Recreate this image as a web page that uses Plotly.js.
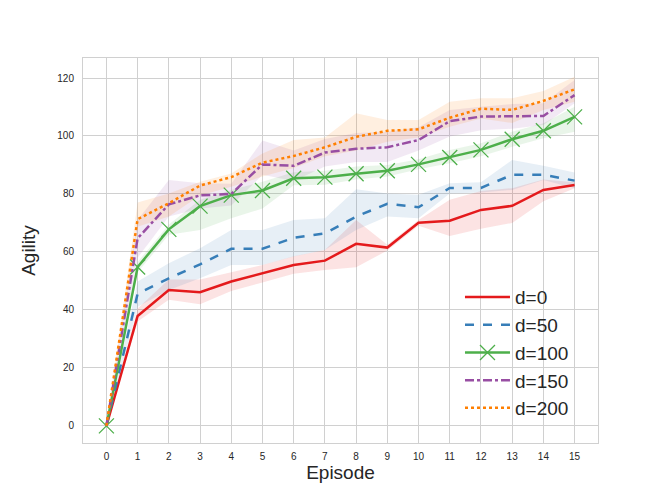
<!DOCTYPE html>
<html>
<head>
<meta charset="utf-8">
<script src="https://cdn.plot.ly/plotly-3.0.1.min.js"></script>
<style>
  html, body { margin: 0; padding: 0; background: #fff; }
  #chart { width: 664px; height: 498px; }
</style>
</head>
<body>
<div id="chart"></div>
<script>
// Agility per episode for each d, with a shaded spread band.

const episodes = [0, 1, 2, 3, 4, 5, 6, 7, 8, 9, 10, 11, 12, 13, 14, 15];

const names = ["d=0", "d=50", "d=100", "d=150", "d=200"];

const d0 = [0, 37.9, 46.9, 46.1, 49.8, 52.6, 55.5, 57.0, 62.8, 61.5, 70.1, 70.8, 74.5, 75.9, 81.4, 83.1];
const d0Lo = [0, 36.0, 43.5, 42.0, 46.5, 49.5, 52.5, 53.8, 54.7, 60.5, 69.0, 65.5, 68.0, 70.0, 77.5, 82.0];
const d0Hi = [0, 40.5, 50.5, 50.5, 53.0, 55.5, 58.5, 60.7, 71.0, 62.5, 71.0, 78.0, 81.0, 82.0, 85.0, 84.0];

const d50 = [0, 45.6, 50.9, 55.7, 61.1, 61.1, 64.9, 66.4, 72.2, 76.6, 75.4, 82.1, 82.1, 86.6, 86.6, 84.6];
const d50Lo = [0, 41.1, 46.9, 50.9, 55.5, 55.5, 58.4, 60.7, 67.6, 72.2, 71.6, 80.2, 80.5, 81.4, 84.8, 82.0];
const d50Hi = [0, 49.8, 56.1, 61.3, 67.6, 67.6, 71.0, 71.6, 81.6, 80.2, 79.7, 83.7, 84.0, 91.7, 89.7, 87.4];

const d100 = [0, 54.8, 67.8, 75.8, 79.6, 81.2, 85.4, 85.8, 87.0, 88.0, 90.2, 92.6, 95.2, 98.9, 101.8, 106.6];
const d100Lo = [0, 53.0, 65.9, 67.6, 71.6, 75.0, 83.0, 83.2, 85.0, 86.0, 88.5, 90.6, 93.0, 96.3, 99.2, 101.5];
const d100Hi = [0, 56.5, 69.5, 78.0, 81.4, 84.2, 87.5, 88.0, 89.5, 90.0, 92.0, 95.2, 97.5, 101.5, 104.4, 110.1];

const d150 = [0, 64.7, 76.4, 79.5, 80.0, 90.2, 89.7, 94.3, 95.6, 96.1, 98.6, 105.1, 106.7, 106.9, 106.9, 114.1];
const d150Lo = [0, 58.0, 72.2, 75.0, 76.0, 86.6, 84.5, 89.5, 91.0, 91.0, 95.0, 99.8, 102.0, 102.5, 103.8, 111.3];
const d150Hi = [0, 71.0, 84.8, 83.7, 83.5, 98.4, 95.0, 99.0, 101.0, 101.5, 103.0, 109.0, 110.1, 111.0, 111.3, 119.3];

const d200 = [0, 71.3, 76.8, 82.9, 85.8, 90.8, 93.1, 96.1, 99.7, 101.8, 102.3, 106.3, 109.4, 109.0, 112.1, 116.1];
const d200Lo = [0, 68.7, 72.2, 79.5, 82.5, 86.0, 89.0, 93.0, 95.0, 98.0, 99.5, 103.2, 106.0, 104.5, 109.0, 111.8];
const d200Hi = [0, 77.1, 80.2, 84.2, 87.1, 94.0, 98.6, 99.5, 107.8, 105.5, 105.5, 111.8, 113.0, 113.0, 115.5, 120.4];

const xTicks = episodes;
const yTicks = [0, 20, 40, 60, 80, 100, 120];

const series = [
  { name: names[0], y: d0, lo: d0Lo, hi: d0Hi, color: "#e41a1c", fill: "rgba(228,26,28,0.12)", dash: "solid" },
  { name: names[1], y: d50, lo: d50Lo, hi: d50Hi, color: "#377eb8", fill: "rgba(55,126,184,0.12)", dash: "dash" },
  { name: names[2], y: d100, lo: d100Lo, hi: d100Hi, color: "#4daf4a", fill: "rgba(77,175,74,0.12)", dash: "solid", marker: true },
  { name: names[3], y: d150, lo: d150Lo, hi: d150Hi, color: "#984ea3", fill: "rgba(152,78,163,0.12)", dash: "dashdot" },
  { name: names[4], y: d200, lo: d200Lo, hi: d200Hi, color: "#ff7f00", fill: "rgba(255,127,0,0.12)", dash: "dot" },
];

const FONT = '"Liberation Sans", Arial, sans-serif';
const INK = "#262626";
const GRID = "#d0d0d0";

const traces = [];

// bands first, closed polygon upper -> reversed lower
series.forEach((s) => {
  traces.push({
    x: [...episodes, ...episodes.slice().reverse()],
    y: [...s.hi, ...s.lo.slice().reverse()],
    type: "scatter",
    mode: "lines",
    fill: "toself",
    fillcolor: s.fill,
    line: { width: 0, color: "rgba(0,0,0,0)" },
    showlegend: false,
    hoverinfo: "skip",
  });
});

series.forEach((s) => {
  const tr = {
    x: episodes,
    y: s.y,
    name: s.name,
    type: "scatter",
    mode: "lines",
    line: { color: s.color, width: 2.5, dash: s.dash },
  };
  if (s.marker) {
    tr.mode = "lines+markers";
    tr.marker = { symbol: "x-thin", size: 15, color: s.color, line: { color: s.color, width: 1.3 } };
  }
  traces.push(tr);
});

const layout = {
  width: 664,
  height: 498,
  paper_bgcolor: "#ffffff",
  plot_bgcolor: "#ffffff",
  margin: { l: 83, r: 66, t: 58, b: 55 },
  font: { family: FONT, color: INK, size: 10 },
  showlegend: true,
  xaxis: {
    range: [-0.75, 15.75],
    tickvals: xTicks,
    ticktext: xTicks.map(String),
    showgrid: true,
    gridcolor: GRID,
    gridwidth: 1,
    zeroline: false,
    showline: true,
    mirror: true,
    linecolor: GRID,
    linewidth: 1,
    ticks: "",
    ticklabelstandoff: 4,
    tickfont: { family: FONT, size: 10, color: INK },
    title: { text: "Episode", font: { family: FONT, size: 19, color: INK }, standoff: 2 },
    automargin: false,
  },
  yaxis: {
    range: [-5.9, 126.9],
    tickvals: yTicks,
    ticktext: yTicks.map(String),
    showgrid: true,
    gridcolor: GRID,
    gridwidth: 1,
    zeroline: false,
    showline: true,
    mirror: true,
    linecolor: GRID,
    linewidth: 1,
    ticks: "",
    ticklabelstandoff: 6,
    tickfont: { family: FONT, size: 10, color: INK },
    title: { text: "Agility", font: { family: FONT, size: 19, color: INK }, standoff: 16 },
    automargin: false,
  },
  legend: {
    x: 0.732,
    xanchor: "left",
    y: 0.428,
    yanchor: "top",
    bgcolor: "rgba(0,0,0,0)",
    borderwidth: 0,
    itemwidth: 45,
    font: { family: FONT, size: 19, color: INK },
    traceorder: "normal",
  },
};

Plotly.newPlot("chart", traces, layout, { displayModeBar: false, staticPlot: true });
</script>
</body>
</html>
